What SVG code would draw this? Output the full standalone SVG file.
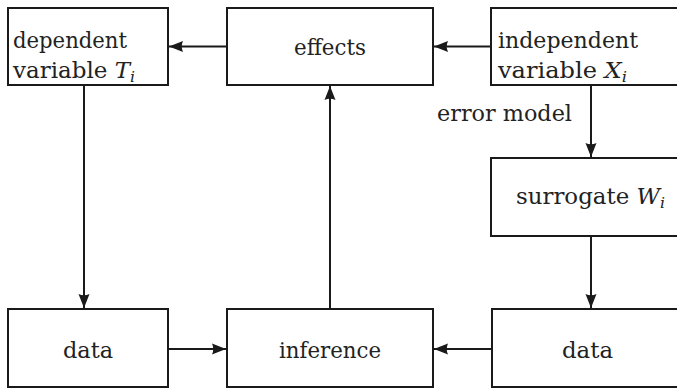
<svg xmlns="http://www.w3.org/2000/svg" width="677" height="389" viewBox="0 0 677 389">
  <defs>
    <style>
      .box { fill: #fff; stroke: #1a1a1a; stroke-width: 2; }
      .edge { fill: none; stroke: #1a1a1a; stroke-width: 2; }
      .lbl { font-family: "DejaVu Serif", "Liberation Serif", serif; font-size: 22px; fill: #222; }
      .math { font-style: italic; }
      .sub { font-style: italic; font-size: 15px; }
    </style>
    <marker id="arrow" markerUnits="userSpaceOnUse" markerWidth="15" markerHeight="12" viewBox="0 0 15 12" refX="14" refY="6" orient="auto">
      <path d="M0,0.5 L14,6 L0,11.5 Q2.5,6 0,0.5 Z" fill="#1a1a1a"/>
    </marker>
  </defs>

  <!-- connectors -->
  <g id="connectors">
    <line class="edge" x1="227" y1="46.5" x2="169" y2="46.5" marker-end="url(#arrow)"/>
    <line class="edge" x1="491" y1="46.5" x2="434" y2="46.5" marker-end="url(#arrow)"/>
    <line class="edge" x1="591" y1="85" x2="591" y2="157" marker-end="url(#arrow)"/>
    <line class="edge" x1="84" y1="85" x2="84" y2="308" marker-end="url(#arrow)"/>
    <line class="edge" x1="330" y1="309" x2="330" y2="86" marker-end="url(#arrow)"/>
    <line class="edge" x1="591" y1="236" x2="591" y2="308" marker-end="url(#arrow)"/>
    <line class="edge" x1="168" y1="349" x2="226" y2="349" marker-end="url(#arrow)"/>
    <line class="edge" x1="492" y1="349" x2="434" y2="349" marker-end="url(#arrow)"/>
    <text class="lbl" x="437" y="121" textLength="135" lengthAdjust="spacingAndGlyphs">error model</text>
  </g>

  <g id="dependent">
    <rect class="box" x="8" y="8" width="160" height="77"/>
    <text class="lbl" x="13" y="48" textLength="114" lengthAdjust="spacingAndGlyphs">dependent</text>
    <text class="lbl" x="13" y="78" textLength="122" lengthAdjust="spacingAndGlyphs">variable <tspan class="math">T</tspan><tspan class="sub" dy="4">i</tspan></text>
  </g>

  <g id="effects">
    <rect class="box" x="227" y="8" width="206" height="77"/>
    <text class="lbl" x="294" y="55" textLength="72" lengthAdjust="spacingAndGlyphs">effects</text>
  </g>

  <g id="independent">
    <rect class="box" x="491" y="8" width="200" height="77"/>
    <text class="lbl" x="498" y="48" textLength="140" lengthAdjust="spacingAndGlyphs">independent</text>
    <text class="lbl" x="498" y="78" textLength="129" lengthAdjust="spacingAndGlyphs">variable <tspan class="math">X</tspan><tspan class="sub" dy="4">i</tspan></text>
  </g>

  <g id="surrogate">
    <rect class="box" x="491" y="158" width="200" height="78"/>
    <text class="lbl" x="516" y="204" textLength="149" lengthAdjust="spacingAndGlyphs">surrogate <tspan class="math">W</tspan><tspan class="sub" dy="4">i</tspan></text>
  </g>

  <g id="data-left">
    <rect class="box" x="8" y="309" width="160" height="78"/>
    <text class="lbl" x="63" y="358" textLength="50" lengthAdjust="spacingAndGlyphs">data</text>
  </g>

  <g id="inference">
    <rect class="box" x="227" y="309" width="206" height="78"/>
    <text class="lbl" x="279" y="358" textLength="102" lengthAdjust="spacingAndGlyphs">inference</text>
  </g>

  <g id="data-right">
    <rect class="box" x="492" y="309" width="200" height="78"/>
    <text class="lbl" x="562" y="358" textLength="51" lengthAdjust="spacingAndGlyphs">data</text>
  </g>
</svg>
